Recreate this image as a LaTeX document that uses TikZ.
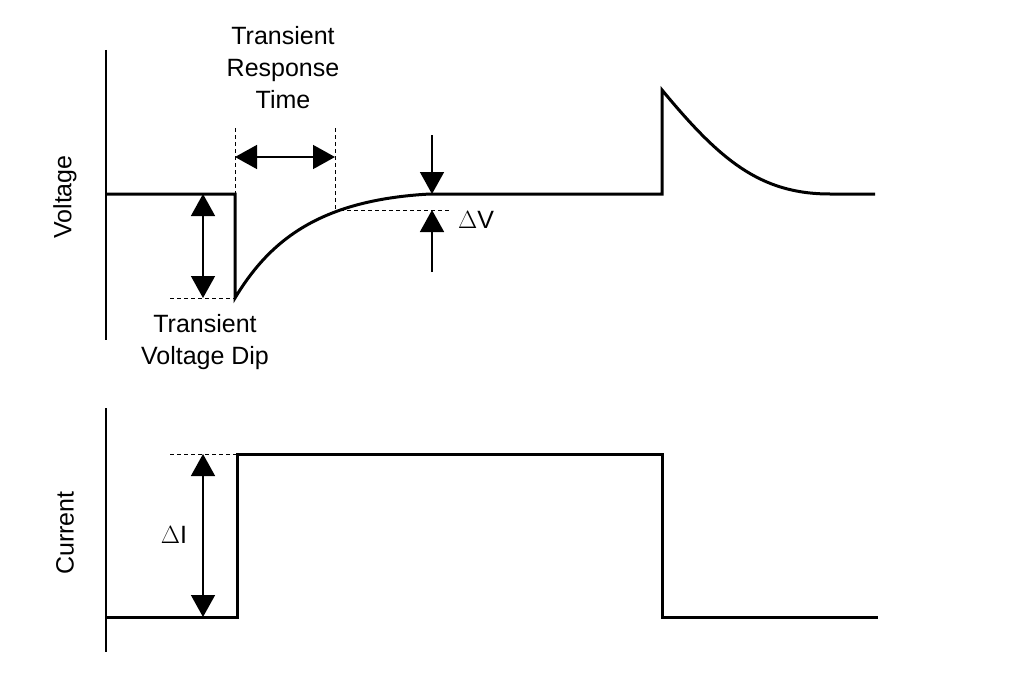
\documentclass[tikz,border=0pt]{standalone}
\usepackage{fontspec}
\setmainfont{Liberation Sans}
\usetikzlibrary{arrows.meta}
\tikzset{
  wave/.style={line width=3pt, line join=miter},
  axis/.style={line width=1.5pt},
  guide/.style={line width=0.8pt, dashed, dash pattern=on 4pt off 3pt},
  dim/.style={line width=1.5pt, {Triangle[length=22pt,width=24pt]}-{Triangle[length=22pt,width=24pt]}},
  dimend/.style={line width=1.5pt, -{Triangle[length=22pt,width=24pt]}},
  lbl/.style={font=\fontsize{25}{32}\selectfont, align=center, inner sep=0pt}
}
\begin{document}
\begin{tikzpicture}[x=1pt,y=-1pt]
\useasboundingbox (0,0) rectangle (1024,674);
% voltage panel
\coordinate (vtop) at (106,50);
\coordinate (vbot) at (106,340);
\draw[axis] (vtop) -- (vbot);
\coordinate (v0) at (106,194);
\coordinate (vstep) at (235,194);
\coordinate (vdip) at (235,298);
\coordinate (vset) at (430,194);
\coordinate (vjump) at (662,194);
\coordinate (vpeak) at (662,90);
\coordinate (vback) at (830,194);
\coordinate (vend) at (875,194);
\draw[wave] (v0) -- (vstep) -- (vdip)
  .. controls (270,240) and (320,200) .. (vset) -- (vjump) -- (vpeak)
  .. controls (720,160) and (760,194) .. (vback) -- (vend);
% response time
\coordinate (rt1) at (235,128);
\coordinate (rt2) at (335,128);
\draw[guide] (rt1) -- (vstep);
\draw[guide] (rt2) -- (335,210);
\draw[dim] (235,157) -- (335,157);
\node[lbl] (trt) at (283,68) {Transient\\Response\\Time};
% voltage dip
\draw[guide] (170,298) -- (vdip);
\draw[dim] (203,194) -- (203,298);
\node[lbl] (tvd) at (205,342) {Transient\\Voltage Dip};
% delta V
\draw[guide] (340,210) -- (450,210);
\coordinate (dvtop) at (432,135);
\coordinate (dvbot) at (432,272);
\draw[dimend] (dvtop) -- (432,194);
\draw[dimend] (dvbot) -- (432,210);
\node[lbl, anchor=west] (dv) at (458,220) {$\Delta$V};
\node[lbl, rotate=90] (vlab) at (65,197) {Voltage};
% current panel
\draw[axis] (106,408) -- (106,652);
\coordinate (i0) at (106,617);
\coordinate (iup) at (237,617);
\coordinate (ihi) at (237,454);
\coordinate (idn) at (662,454);
\coordinate (ilo) at (662,617);
\coordinate (iend) at (878,617);
\draw[wave] (i0) -- (iup) -- (ihi) -- (idn) -- (ilo) -- (iend);
\draw[guide] (170,454) -- (ihi);
\draw[dim] (203,454) -- (203,617);
\node[lbl] (di) at (174,535) {$\Delta$I};
\node[lbl, rotate=90] (ilab) at (65,533) {Current};
\end{tikzpicture}
\end{document}
